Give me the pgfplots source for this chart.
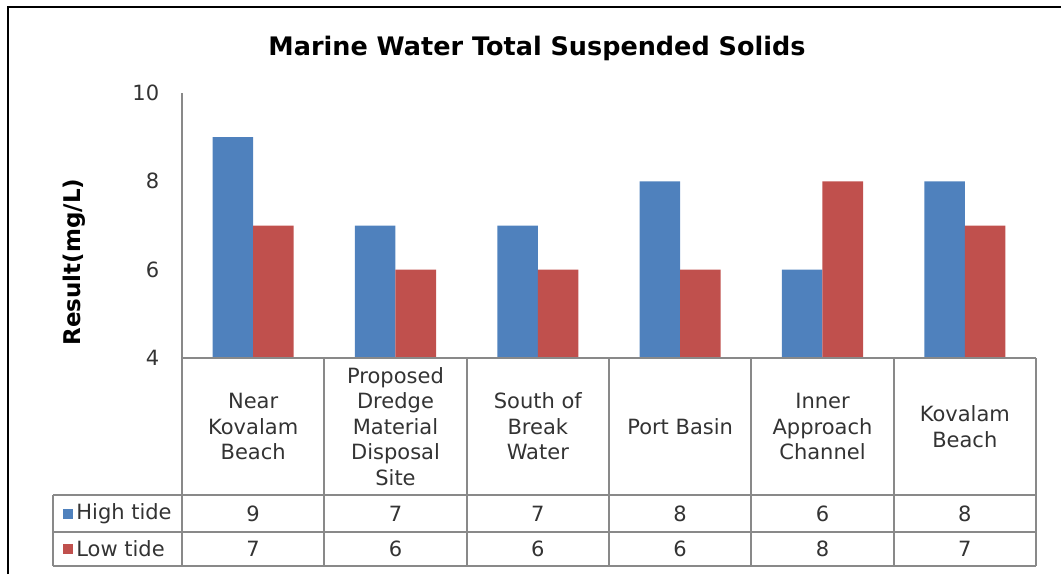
\documentclass[border=0pt]{standalone}
\usepackage{fontspec}
\setmainfont{DejaVu Sans}
\usepackage{pgfplots}
\pgfplotsset{compat=1.18}
\definecolor{xblue}{HTML}{4F81BD}
\definecolor{xred}{HTML}{C0504D}
\definecolor{xgrid}{HTML}{898989}
\definecolor{xtext}{HTML}{333333}
\begin{document}
\fontsize{10.5}{12.75}\selectfont
\begin{tikzpicture}
\begin{scope}[x=0.5pt,y=0.5pt]
\useasboundingbox (0,0) rectangle (1061,574);
% outer frame
\draw[black,line width=1.25pt] (8,0) -- (8,567) -- (1061,567);
\end{scope}
\begin{axis}[
  at={(91pt,108pt)}, anchor=south west,
  scale only axis, width=427pt, height=132.5pt,
  xmin=-0.5, xmax=5.5, ymin=4, ymax=10,
  ytick={4,6,8,10},
  xtick={0,1,2,3,4,5},
  xticklabels={{Near\\Kovalam\\Beach},{Proposed\\Dredge\\Material\\Disposal\\Site},{South of\\Break\\Water},{Port Basin},{Inner\\Approach\\Channel},{Kovalam\\Beach}},
  xticklabel style={align=center, anchor=center, yshift=-34.25pt, text=xtext, font=\fontsize{10.5}{12.75}\selectfont},
  yticklabel style={anchor=east, xshift=-7.7pt, text=xtext, font=\fontsize{10.5}{12}\selectfont},
  /pgf/number format/assume math mode=true,
  axis lines*=left,
  axis line style={xgrid, line width=1pt},
  major tick length=0pt,
  ybar=0pt, bar width=0.285,
  title={\bfseries Marine Water Total Suspended Solids},
  title style={at={(axis description cs:0.4157,1.124)}, anchor=center, font=\fontsize{12.75}{14}\selectfont},
  ylabel={\bfseries Result(mg/L)},
  ylabel style={at={(axis description cs:-0.1265,0.362)}, anchor=center, font=\fontsize{11.5}{13}\selectfont},
  clip=true,
]
\addplot[fill=xblue, draw=none] coordinates {(0,9) (1,7) (2,7) (3,8) (4,6) (5,8)};
\addplot[fill=xred, draw=none] coordinates {(0,7) (1,6) (2,6) (3,6) (4,8) (5,7)};
\end{axis}
\begin{scope}[x=0.5pt,y=0.5pt]
% data table
\begin{scope}[xgrid, line width=1pt]
\draw (182,216) -- (1036,216);
\draw (53,79) -- (1036,79);
\draw (53,42) -- (1036,42);
\draw (53,8) -- (1036,8);
\draw (53,8) -- (53,79);
\foreach \k in {0,...,6} {\draw ({182+142.333*\k},8) -- ({182+142.333*\k},216);}
\end{scope}
\fill[xblue] (63,55.5) rectangle (73,65.5);
\fill[xred] (63,20) rectangle (73,30);
\node[anchor=west, inner sep=0, text=xtext] at (76,60.5) {High tide};
\node[anchor=west, inner sep=0, text=xtext] at (76,25) {Low tide};
\foreach \v [count=\i from 0] in {9,7,7,8,6,8} {\node[text=xtext] at ({253.17+142.333*\i},60.5) {\v};}
\foreach \v [count=\i from 0] in {7,6,6,6,8,7} {\node[text=xtext] at ({253.17+142.333*\i},25) {\v};}
\end{scope}
\end{tikzpicture}
\end{document}
